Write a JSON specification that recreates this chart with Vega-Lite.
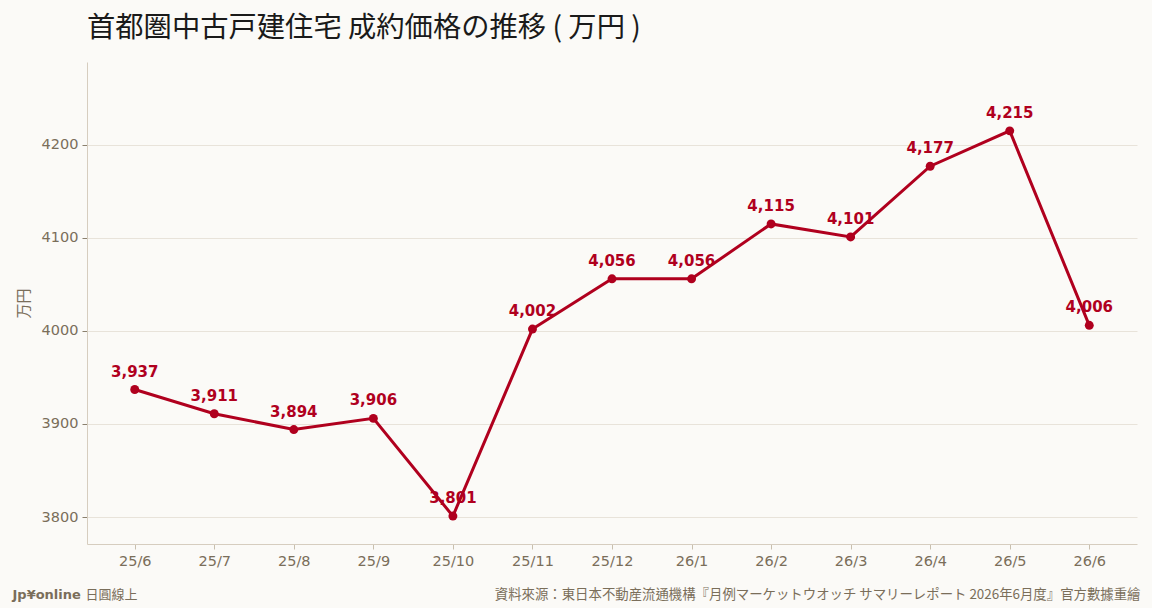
{
  "$schema": "https://vega.github.io/schema/vega-lite/v6.json",
  "width": 1050,
  "height": 482,
  "autosize": {"type": "none"},
  "padding": {"left": 87, "top": 62, "right": 15, "bottom": 64},
  "background": "#fbfaf7",
  "title": {
    "text": "首都圏中古戸建住宅 成約価格の推移 ( 万円 )",
    "anchor": "start",
    "frame": "group",
    "font": "Noto Sans CJK JP",
    "fontSize": 28.3,
    "fontWeight": "normal",
    "color": "#1a1a1a",
    "offset": 19
  },
  "data": {
    "values": [
      {"month": "25/6", "price": 3937},
      {"month": "25/7", "price": 3911},
      {"month": "25/8", "price": 3894},
      {"month": "25/9", "price": 3906},
      {"month": "25/10", "price": 3801},
      {"month": "25/11", "price": 4002},
      {"month": "25/12", "price": 4056},
      {"month": "26/1", "price": 4056},
      {"month": "26/2", "price": 4115},
      {"month": "26/3", "price": 4101},
      {"month": "26/4", "price": 4177},
      {"month": "26/5", "price": 4215},
      {"month": "26/6", "price": 4006}
    ]
  },
  "encoding": {
    "x": {
      "field": "month",
      "type": "ordinal",
      "sort": null,
      "scale": {"type": "point", "padding": 0.6}
    },
    "y": {
      "field": "price",
      "type": "quantitative",
      "scale": {"domain": [3771, 4289], "nice": false, "zero": false},
      "axis": {
        "values": [3800, 3900, 4000, 4100, 4200],
        "format": "d",
        "title": "万円",
        "titleFont": "Noto Sans CJK JP",
        "titleFontSize": 15,
        "titleFontWeight": "normal",
        "titleColor": "#7a6e5a",
        "titlePadding": 10,
        "labelFont": "DejaVu Sans",
        "labelFontSize": 14.5,
        "labelColor": "#7a6e5a",
        "labelPadding": 4,
        "tickSize": 5,
        "tickColor": "#8a806e",
        "domainColor": "#d6cdbf",
        "gridColor": "#e8e3da",
        "grid": true
      }
    }
  },
  "layer": [
    {
      "mark": {"type": "line", "color": "#b0001e", "strokeWidth": 3},
      "encoding": {
        "x": {
          "field": "month", "type": "ordinal", "sort": null,
          "axis": {
            "orient": "bottom",
            "labelAngle": 0,
            "labelFont": "DejaVu Sans",
            "labelFontSize": 14.5,
            "labelColor": "#7a6e5a",
            "labelPadding": 5,
            "tickSize": 5,
            "tickColor": "#c8bfae",
            "domainColor": "#d6cdbf",
            "grid": false,
            "title": "資料來源：東日本不動産流通機構『月例マーケットウオッチ サマリーレポート 2026年6月度』官方數據重繪",
            "titleFont": "Noto Sans CJK TC",
            "titleFontSize": 13.4,
            "titleFontWeight": "normal",
            "titleColor": "#7a6e5a",
            "titleAlign": "right",
            "titleAnchor": "end",
            "titleBaseline": "alphabetic",
            "titleX": 1053,
            "titleY": 54
          }
        }
      }
    },
    {
      "mark": {"type": "point", "filled": true, "color": "#b0001e", "size": 80, "opacity": 1},
      "encoding": {
        "x": {
          "field": "month", "type": "ordinal", "sort": null,
          "axis": {
            "orient": "bottom",
            "labels": false, "ticks": false, "domain": false, "grid": false,
            "offset": 0,
            "title": "Jp¥online",
            "titleFont": "DejaVu Sans",
            "titleFontSize": 13,
            "titleFontWeight": "bold",
            "titleColor": "#7a6e5a",
            "titleAlign": "left",
            "titleAnchor": "start",
            "titleBaseline": "alphabetic",
            "titleX": -75,
            "titleY": 54
          }
        }
      }
    },
    {
      "mark": {"type": "text", "color": "#b0001e", "font": "DejaVu Sans", "fontSize": 15, "fontWeight": "bold", "dy": -18, "baseline": "middle"},
      "encoding": {
        "x": {
          "field": "month", "type": "ordinal", "sort": null,
          "axis": {
            "orient": "bottom",
            "labels": false, "ticks": false, "domain": false, "grid": false,
            "offset": 0,
            "title": "日圓線上",
            "titleFont": "Noto Sans CJK TC",
            "titleFontSize": 13,
            "titleFontWeight": "normal",
            "titleColor": "#7a6e5a",
            "titleAlign": "left",
            "titleAnchor": "start",
            "titleBaseline": "alphabetic",
            "titleX": -2,
            "titleY": 54
          }
        },
        "text": {"field": "price", "type": "quantitative", "format": ",d"}
      }
    }
  ],
  "resolve": {"axis": {"x": "independent"}},
  "config": {
    "view": {"stroke": null}
  }
}
